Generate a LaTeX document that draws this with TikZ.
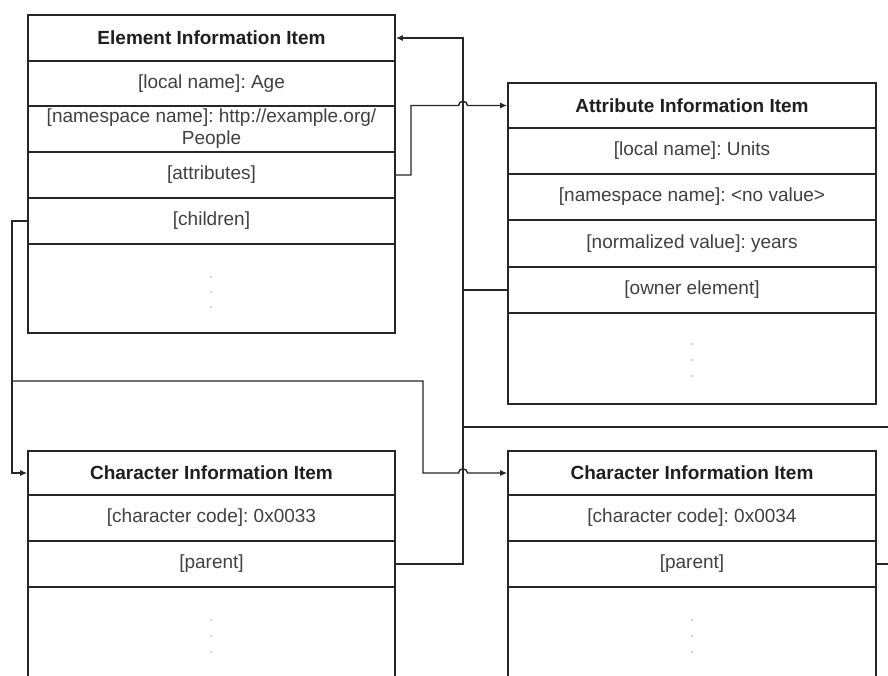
\documentclass[tikz,border=0pt]{standalone}
\usepackage{fontspec}
\setmainfont{Liberation Sans}
\usetikzlibrary{arrows.meta}
\begin{document}
\frenchspacing
\begin{tikzpicture}[x=1pt,y=-1pt,
  row/.style={draw=black!85, line width=1.6pt, inner sep=0pt, font=\fontsize{19}{22}\selectfont, text=black!75, align=center},
  lrow/.style={row, minimum width=367pt},
  rrow/.style={row, minimum width=368pt},
  hdr/.style={font=\fontsize{19}{22}\selectfont\bfseries, text=black!88},
  conn/.style={draw=black!85, line width=1.4pt},
  arr/.style={conn, -{Latex[length=7pt,width=6pt]}},
  dotm/.style={fill=black!35, draw=none}
]
\useasboundingbox (0,0) rectangle (888,675);
\clip (0,0) rectangle (888,675);
\fill[white] (0,0) rectangle (888,675);

% Element Information Item
\node[lrow, hdr, minimum height=46pt] (eh) at (211.5,38) {Element Information Item};
\node[lrow, minimum height=45pt] (e1) at (211.5,83.5) {[local name]: Age};
\node[lrow, minimum height=46pt] (e2) at (211.5,129) {[namespace name]: http://example.org/\\People};
\node[lrow, minimum height=46pt] (e3) at (211.5,175) {[attributes]};
\node[lrow, minimum height=46pt] (e4) at (211.5,221) {[children]};
\node[lrow, minimum height=89pt] (e5) at (211.5,288.5) {};

% Attribute Information Item
\node[rrow, hdr, minimum height=45pt] (ah) at (692,105.5) {Attribute Information Item};
\node[rrow, minimum height=46pt] (a1) at (692,151) {[local name]: Units};
\node[rrow, minimum height=46pt] (a2) at (692,197) {[namespace name]: <no value>};
\node[rrow, minimum height=47pt] (a3) at (692,243.5) {[normalized value]: years};
\node[rrow, minimum height=46pt] (a4) at (692,290) {[owner element]};
\node[rrow, minimum height=91pt] (a5) at (692,358.5) {};

% Character Information Item 1
\node[lrow, hdr, minimum height=44pt] (ch1) at (211.5,473) {Character Information Item};
\node[lrow, minimum height=46pt] (c11) at (211.5,518) {[character code]: 0x0033};
\node[lrow, minimum height=46pt] (c12) at (211.5,564) {[parent]};
\node[lrow, minimum height=103pt] (c13) at (211.5,638.5) {};

% Character Information Item 2
\node[rrow, hdr, minimum height=44pt] (ch2) at (692,473) {Character Information Item};
\node[rrow, minimum height=46pt] (c21) at (692,518) {[character code]: 0x0034};
\node[rrow, minimum height=46pt] (c22) at (692,564) {[parent]};
\node[rrow, minimum height=103pt] (c23) at (692,638.5) {};

% ellipsis dots
\foreach \px/\py in {211/277,211/292,211/307,692/344,692/360,692/376,211/620,211/636,211/652,692/620,692/636,692/652}
  \fill[dotm] (\px,\py) circle (0.9pt);

% helper coordinates
\coordinate (bx) at (463,0);
\coordinate (ax) at (411,0);
\coordinate (lx) at (12,0);
\coordinate (mx) at (423,0);
\coordinate (offR) at (905,0);
\coordinate (rbus) at (463,427);
\coordinate (br) at (12,381);
\coordinate (h1a) at (458.5,105.5);
\coordinate (h1b) at (467.5,105.5);
\coordinate (h1c) at (458.5,100);
\coordinate (h1d) at (467.5,100);
\coordinate (h2a) at (458.5,473);
\coordinate (h2b) at (467.5,473);
\coordinate (h2c) at (458.5,467.5);
\coordinate (h2d) at (467.5,467.5);

% owner element / parent -> element
\draw[arr] (a4.west) -- (a4.west -| bx) |- (eh.east);
\draw[conn] (c12.east) -| (a4.west -| bx);
\draw[conn] (c22.east) -- (c22.east -| offR) |- (rbus);

% attributes -> attribute item
\draw[arr] (e3.east) -- (e3.east -| ax) |- (h1a) .. controls (h1c) and (h1d) .. (h1b) -- (ah.west);

% children -> characters
\draw[arr] (e4.west) -- (e4.west -| lx) |- (ch1.west);
\draw[arr] (br) -| (h2a -| mx) -- (h2a) .. controls (h2c) and (h2d) .. (h2b) -- (ch2.west);
\end{tikzpicture}
\end{document}
